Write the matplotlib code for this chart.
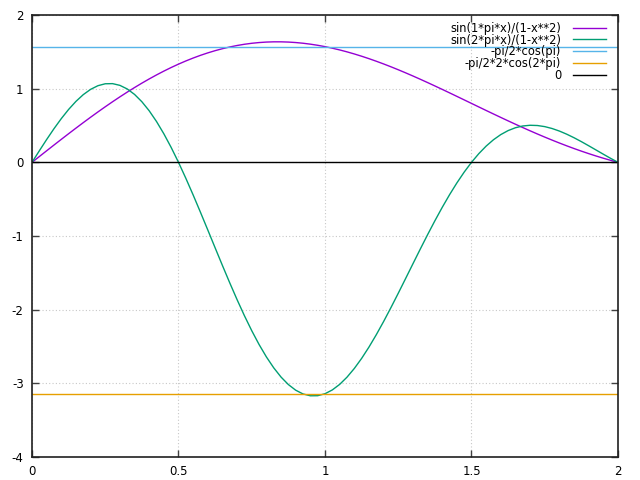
import matplotlib
matplotlib.use("Agg")
import matplotlib.pyplot as plt

plt.rcParams["axes.unicode_minus"] = False

# values, step 0.025
x_values = [0.000, 0.025, 0.050, 0.075, 0.100, 0.125, 0.150, 0.175, 0.200, 0.225,
            0.250, 0.275, 0.300, 0.325, 0.350, 0.375, 0.400, 0.425, 0.450, 0.475,
            0.500, 0.525, 0.550, 0.575, 0.600, 0.625, 0.650, 0.675, 0.700, 0.725,
            0.750, 0.775, 0.800, 0.825, 0.850, 0.875, 0.900, 0.925, 0.950, 0.975,
            1.000, 1.025, 1.050, 1.075, 1.100, 1.125, 1.150, 1.175, 1.200, 1.225,
            1.250, 1.275, 1.300, 1.325, 1.350, 1.375, 1.400, 1.425, 1.450, 1.475,
            1.500, 1.525, 1.550, 1.575, 1.600, 1.625, 1.650, 1.675, 1.700, 1.725,
            1.750, 1.775, 1.800, 1.825, 1.850, 1.875, 1.900, 1.925, 1.950, 1.975, 2.000]
sin1_values = [0.0, 0.0785, 0.1568, 0.2348, 0.3121, 0.3888, 0.4644, 0.5390, 0.6123, 0.6841,
               0.7543, 0.8226, 0.8890, 0.9533, 1.0154, 1.0751, 1.1322, 1.1867, 1.2385, 1.2874,
               1.3333, 1.3763, 1.4160, 1.4527, 1.4860, 1.5161, 1.5429, 1.5663, 1.5863, 1.6030,
               1.6163, 1.6262, 1.6328, 1.6360, 1.6360, 1.6328, 1.6264, 1.6170, 1.6044, 1.5891,
               1.5708, 1.5498, 1.5262, 1.5001, 1.4715, 1.4407, 1.4077, 1.3727, 1.3359, 1.2973,
               1.2571, 1.2154, 1.1725, 1.1284, 1.0833, 1.0373, 0.9907, 0.9435, 0.8959, 0.8480,
               0.8000, 0.7520, 0.7042, 0.6567, 0.6097, 0.5631, 0.5173, 0.4722, 0.4281, 0.3849,
               0.3428, 0.3020, 0.2624, 0.2242, 0.1874, 0.1521, 0.1184, 0.0863, 0.0558, 0.0271, 0.0]
sin2_values = [0.0, 0.1565, 0.3098, 0.4566, 0.5937, 0.7183, 0.8276, 0.9192, 0.9907, 1.0404,
               1.0667, 1.0685, 1.0451, 0.9962, 0.9220, 0.8228, 0.6998, 0.5541, 0.3875, 0.2020,
               0.0, -0.2160, -0.4430, -0.6782, -0.9184, -1.1604, -1.4009, -1.6368, -1.8648, -2.0821,
               -2.2857, -2.4731, -2.6418, -2.7898, -2.9154, -3.0170, -3.0936, -3.1445, -3.1694, -3.1682,
               -3.1416, -3.0900, -3.0148, -2.9172, -2.7990, -2.6621, -2.5086, -2.3409, -2.1615, -1.9729,
               -1.7778, -1.5787, -1.3784, -1.1792, -0.9836, -0.7940, -0.6123, -0.4405, -0.2803, -0.1331,
               0.0, 0.1180, 0.2203, 0.3066, 0.3768, 0.4310, 0.4697, 0.4935, 0.5032, 0.4999,
               0.4849, 0.4593, 0.4246, 0.3823, 0.3340, 0.2811, 0.2252, 0.1678, 0.1103, 0.0539, 0.0]
const_labels = ["-pi/2*cos(pi)", "-pi/2*2*cos(2*pi)", "0"]
const_values = [1.5708, -3.1416, 0.0]
const_colors = ["#56b4e9", "#e69f00", "#000000"]

fig = plt.figure(figsize=(6.4, 4.8), dpi=100)
ax = fig.add_axes([0.05, 0.048, 0.9156, 0.9207])

ax.plot(x_values, sin1_values, color="#9400d3", lw=1, label="sin(1*pi*x)/(1-x**2)")
ax.plot(x_values, sin2_values, color="#009e73", lw=1, label="sin(2*pi*x)/(1-x**2)")
for lab, val, col in zip(const_labels, const_values, const_colors):
    ax.plot([x_values[0], x_values[-1]], [val, val], color=col, lw=1, label=lab)

ax.set_xlim(0, 2)
ax.set_ylim(-4, 2)
ax.set_xticks([0, 0.5, 1, 1.5, 2])
ax.set_xticklabels(["0", "0.5", "1", "1.5", "2"])
ax.set_yticks([-4, -3, -2, -1, 0, 1, 2])
ax.grid(True, color="#c8c8c8", linestyle=(0, (1, 2)), lw=0.8)
ax.tick_params(direction="in", length=5, width=1, top=True, right=True, labelsize=8.5, pad=6,
               color="#404040")
for s in ax.spines.values():
    s.set_linewidth(1.2)
    s.set_color("#202020")

ax.legend(loc="upper right", bbox_to_anchor=(0.9795, 0.985), frameon=False,
          markerfirst=False, fontsize=8.3, handlelength=2.85, labelspacing=-0.1,
          borderaxespad=0, borderpad=0, handletextpad=1.05)

fig.savefig("out.png", dpi=100)
